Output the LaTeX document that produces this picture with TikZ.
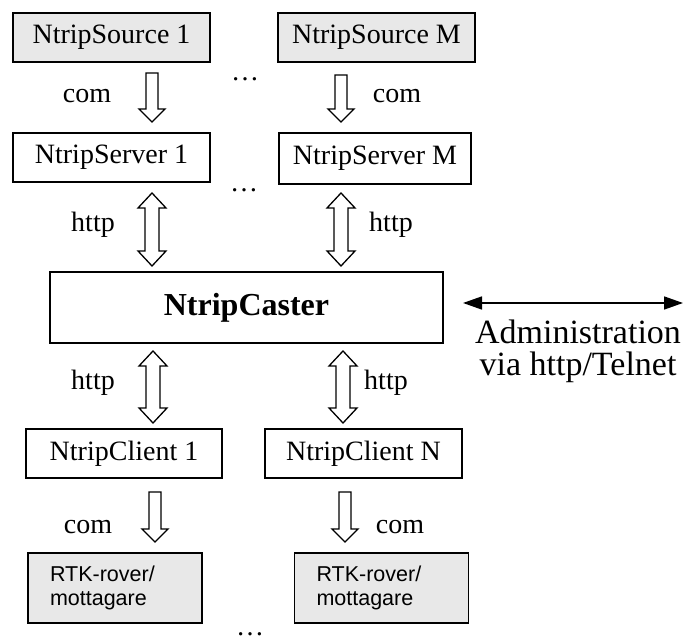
\documentclass[tikz,border=0pt]{standalone}
\usepackage{fontspec}
\setmainfont{Liberation Serif}
\newfontfamily\rovfont{Liberation Sans}
\usetikzlibrary{calc,arrows.meta}

\definecolor{boxgray}{RGB}{232,232,232}

\tikzset{
  box/.style={draw=black, line width=1.4pt, minimum height=49pt, inner sep=0pt,
    font=\fontsize{28}{32}\selectfont},
  srcbox/.style={box, fill=boxgray, minimum width=197pt},
  srvbox/.style={box, fill=white},
  rtkbox/.style={draw=black, line width=1.4pt, fill=boxgray, minimum height=70pt,
    text width=130pt, inner xsep=22pt, align=left,
    font=\rovfont\fontsize{21.5}{24}\selectfont},
  lbl/.style={font=\fontsize{28}{32}\selectfont, inner sep=0pt},
  blockarrow/.style={draw=black, line width=1.3pt, fill=white, line join=miter},
  admtip/.tip={Triangle[length=19pt, width=13pt]},
}

% hollow block arrow pointing down: #1 tail, #2 tip
\newcommand{\hollowdown}[2]{%
  \draw[blockarrow] let \p1=(#1), \p2=(#2) in
    (\x1-6pt,\y1) -- (\x1+6pt,\y1) -- (\x1+6pt,\y2+13pt) -- (\x1+13pt,\y2+13pt)
    -- (\x1,\y2) -- (\x1-13pt,\y2+13pt) -- (\x1-6pt,\y2+13pt) -- cycle;}

% hollow block arrow with heads at both ends: #1 upper tip, #2 lower tip
\newcommand{\hollowboth}[2]{%
  \draw[blockarrow] let \p1=(#1), \p2=(#2) in
    (\x1,\y1) -- (\x1+14pt,\y1-15pt) -- (\x1+7pt,\y1-15pt) -- (\x1+7pt,\y2+15pt)
    -- (\x1+14pt,\y2+15pt) -- (\x1,\y2) -- (\x1-14pt,\y2+15pt) -- (\x1-7pt,\y2+15pt)
    -- (\x1-7pt,\y1-15pt) -- (\x1-14pt,\y1-15pt) -- cycle;}

\begin{document}
\begin{tikzpicture}[x=1pt, y=1pt]
\useasboundingbox (0,0) rectangle (695,639);

% sources
\node[srcbox] (src1) at (111.5,601.5) {NtripSource 1};
\node[srcbox] (srcM) at (376.5,601.5) {NtripSource M};

% servers
\node[srvbox, minimum width=197pt] (srv1) at (111.5,481.5) {NtripServer 1};
\node[srvbox, minimum width=192pt, minimum height=51pt] (srvM) at (375,480.5) {NtripServer M};

% caster
\node[box, fill=white, minimum width=393pt, minimum height=71pt,
      font=\fontsize{32}{36}\selectfont\bfseries] (caster) at (246.5,331.5) {NtripCaster};

% clients
\node[srvbox, minimum width=196pt] (cli1) at (124,185.5) {NtripClient 1};
\node[srvbox, minimum width=197pt] (cliN) at (363.5,185.5) {NtripClient N};

% rovers
\node[rtkbox] (rtk1) at (115,51) {RTK-rover/\\mottagare};
\node[rtkbox] (rtkN) at (381.5,51) {RTK-rover/\\mottagare};

% arrow end points
\coordinate (a1s) at (152,566);  \coordinate (a1e) at (152,517);
\coordinate (aMs) at (341,564);  \coordinate (aMe) at (341,517);
\coordinate (h1s) at (152,446);  \coordinate (h1e) at (152,373);
\coordinate (hMs) at (341,446);  \coordinate (hMe) at (341,373);
\coordinate (k1s) at (153,288);  \coordinate (k1e) at (153,216);
\coordinate (kNs) at (343,288);  \coordinate (kNe) at (343,216);
\coordinate (r1s) at (155,147);  \coordinate (r1e) at (155,97);
\coordinate (rNs) at (345,147);  \coordinate (rNe) at (345,97);

\hollowdown{a1s}{a1e}
\hollowdown{aMs}{aMe}
\hollowboth{h1s}{h1e}
\hollowboth{hMs}{hMe}
\hollowboth{k1s}{k1e}
\hollowboth{kNs}{kNe}
\hollowdown{r1s}{r1e}
\hollowdown{rNs}{rNe}

% link labels
\node[lbl] (lc1) at (87,543) {com};
\node[lbl] (lcM) at (397,543) {com};
\node[lbl] (lh1) at (93,414) {http};
\node[lbl] (lhM) at (391,414) {http};
\node[lbl] (lk1) at (93,256) {http};
\node[lbl] (lkN) at (386,256) {http};
\node[lbl] (lr1) at (88,112) {com};
\node[lbl] (lrN) at (400,112) {com};

% ellipses
\node[lbl] (d1) at (245,560) {\ldots};
\node[lbl] (d2) at (244,449) {\ldots};
\node[lbl, anchor=base] (d3) at (250,4) {\ldots};

% administration
\coordinate (admL) at (463,336);
\coordinate (admR) at (683,336);
\draw[line width=1.6pt, admtip-admtip] (admL) -- (admR);
\node[font=\fontsize{34}{32}\selectfont, align=center, inner sep=0pt] (adm) at (578,288)
  {Administration\\via http/Telnet};
\end{tikzpicture}
\end{document}
